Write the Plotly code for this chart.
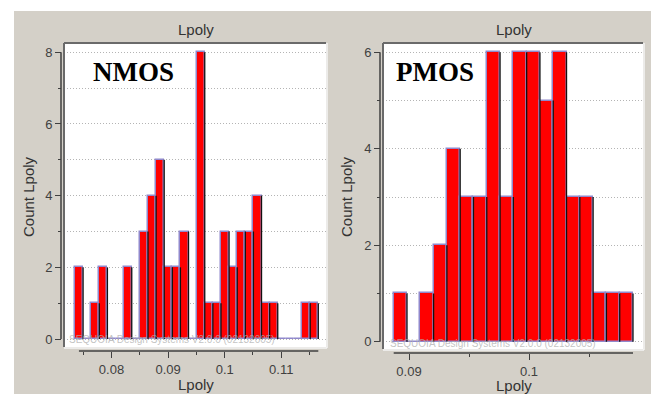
import numpy as np
import plotly.graph_objects as go

# ---------------- data ----------------
nmos_counts = [2, 0, 1, 2, 0, 0, 2, 0, 3, 4, 5, 2, 2, 3, 0, 8, 1, 1, 3, 2, 3, 3, 4, 1, 1, 0, 0, 0, 1, 1]
nmos_range = [0.07355, 0.11654]          # histogram min / max of Lpoly
pmos_counts = [1, 0, 1, 2, 4, 3, 3, 6, 3, 6, 6, 5, 6, 3, 3, 1, 1, 1]
pmos_range = [0.088725, 0.108667]

nmos_xticks = [0.08, 0.09, 0.1, 0.11]
nmos_xlabels = ["0.08", "0.09", "0.1", "0.11"]
pmos_xticks = [0.09, 0.1]
pmos_xlabels = ["0.09", "0.1"]
nmos_yticks = [0, 2, 4, 6, 8]
pmos_yticks = [0, 2, 4, 6]

title_text = "Lpoly"
ytitle_text = "Count Lpoly"
watermark = "SEQUOIA Design Systems V2.0.0 (02132005)"

# ---------------- helpers ----------------
W, H = 654, 394
def px(x):
    return x / W
def py(y):
    return 1 - y / H

BG = "#d4d0c8"
AX = "#404040"
TXT = "#333333"
GRID = "#b4b4b4"
FONT = "Liberation Sans, Arial, sans-serif"

def hist_geometry(counts, rng):
    n = len(counts)
    edges = np.linspace(rng[0], rng[1], n + 1)
    centers = (edges[:-1] + edges[1:]) / 2
    width = edges[1] - edges[0]
    return edges, centers, width

fig = go.Figure()

panels = [
    dict(counts=nmos_counts, rng=nmos_range, xa="x", ya="y"),
    dict(counts=pmos_counts, rng=pmos_range, xa="x2", ya="y2"),
]
for p in panels:
    edges, centers, width = hist_geometry(p["counts"], p["rng"])
    fig.add_trace(go.Bar(
        x=centers, y=p["counts"], width=[width] * len(centers),
        marker=dict(color="#ff0000", line=dict(color="#9088cc", width=1.5)),
        xaxis=p["xa"], yaxis=p["ya"], showlegend=False, hoverinfo="skip"))
    # dark right-hand edge of each bar
    sx, sy = [], []
    for i, c in enumerate(p["counts"]):
        if c > 0:
            sx += [edges[i + 1], edges[i + 1], None]
            sy += [0, c, None]
    fig.add_trace(go.Scatter(
        x=sx, y=sy, mode="lines", line=dict(color="#111111", width=1.3),
        xaxis=p["xa"], yaxis=p["ya"], showlegend=False, hoverinfo="skip"))

def xaxis_cfg(domain, rng, pos, tickvals, ticktext):
    return dict(domain=domain, range=rng, anchor="free", position=pos,
                showline=False, showgrid=False, zeroline=False,
                tickmode="array", tickvals=tickvals, ticktext=ticktext,
                ticks="outside", ticklen=6, tickwidth=1, tickcolor=AX,
                minor=dict(dtick=0.005, tick0=0, ticks="outside", ticklen=3,
                           tickwidth=1, tickcolor=AX, showgrid=False),
                tickfont=dict(family=FONT, size=13, color=AX))

def yaxis_cfg(domain, rng, pos, tickvals):
    return dict(domain=domain, range=rng, anchor="free", position=pos,
                showline=False, zeroline=False,
                tickmode="array", tickvals=tickvals,
                ticks="outside", ticklen=6, tickwidth=1, tickcolor=AX,
                showgrid=True, griddash="1px,2px", gridcolor=GRID, gridwidth=1,
                minor=dict(dtick=1, tick0=0, ticks="outside", ticklen=3,
                           tickwidth=1, tickcolor=AX, showgrid=True,
                           griddash="1px,2px", gridcolor=GRID, gridwidth=1),
                tickfont=dict(family=FONT, size=13, color=AX))

fig.update_layout(
    width=W, height=H, margin=dict(l=0, r=0, t=0, b=0),
    paper_bgcolor=BG, plot_bgcolor="white", bargap=0,
    xaxis=xaxis_cfg([px(64), px(326)], [0.07161, 0.11790], py(351), nmos_xticks, nmos_xlabels),
    yaxis=yaxis_cfg([py(347), py(43)], [-0.223, 8.26], px(61), nmos_yticks),
    xaxis2=xaxis_cfg([px(383), px(643)], [0.087833, 0.1095], py(353), pmos_xticks, pmos_xlabels),
    yaxis2=yaxis_cfg([py(349), py(43)], [-0.151, 6.193], px(380), pmos_yticks),
)

shapes = [
    # white page margins around the grey panel
    dict(type="rect", xref="paper", yref="paper", x0=0, x1=1, y0=py(11), y1=1,
         fillcolor="white", line_width=0, layer="below"),
    dict(type="rect", xref="paper", yref="paper", x0=0, x1=px(14), y0=0, y1=1,
         fillcolor="white", line_width=0, layer="below"),
    dict(type="rect", xref="paper", yref="paper", x0=px(651), x1=1, y0=0, y1=1,
         fillcolor="white", line_width=0, layer="below"),
]
for (l, r, t, b) in [(64, 326, 43, 347), (383, 643, 43, 349)]:
    shapes += [
        dict(type="line", xref="paper", yref="paper", x0=px(l), x1=px(r), y0=py(t), y1=py(t),
             line=dict(color="#6a6a6a", width=2)),
        dict(type="line", xref="paper", yref="paper", x0=px(l), x1=px(l), y0=py(t), y1=py(b),
             line=dict(color="#6a6a6a", width=2)),
        dict(type="line", xref="paper", yref="paper", x0=px(r + 1), x1=px(r + 1), y0=py(t), y1=py(b + 1),
             line=dict(color="#f4f4f4", width=1.5)),
        dict(type="line", xref="paper", yref="paper", x0=px(l), x1=px(r + 1), y0=py(b + 1), y1=py(b + 1),
             line=dict(color="#f4f4f4", width=1.5)),
    ]
# axis lines spanning only the data extent
shapes += [
    dict(type="line", xref="paper", yref="y", x0=px(61), x1=px(61), y0=0, y1=max(nmos_yticks),
         line=dict(color=AX, width=1.5)),
    dict(type="line", xref="paper", yref="y2", x0=px(380), x1=px(380), y0=0, y1=max(pmos_yticks),
         line=dict(color=AX, width=1.5)),
    dict(type="line", xref="x", yref="paper", x0=nmos_range[0] + 0.0007, x1=nmos_range[1], y0=py(351), y1=py(351),
         line=dict(color=AX, width=1.5)),
    dict(type="line", xref="x2", yref="paper", x0=pmos_range[0], x1=pmos_range[1], y0=py(353), y1=py(353),
         line=dict(color=AX, width=1.5)),
]
fig.update_layout(shapes=shapes)

ann = []
def text(x, y, s, size, color=TXT, family=FONT, angle=0, xanchor="center"):
    ann.append(dict(xref="paper", yref="paper", x=px(x), y=py(y), text=s, showarrow=False,
                    font=dict(family=family, size=size, color=color), textangle=angle,
                    xanchor=xanchor, yanchor="middle"))

text(196, 29, title_text, 15)
text(514, 29, title_text, 15)
text(196, 384, title_text, 15)
text(514, 385, title_text, 15)
text(28, 197, ytitle_text, 15, angle=-90)
text(346, 197, ytitle_text, 15, angle=-90)
text(133, 72, "<b>NMOS</b>", 27, color="black", family="Liberation Serif, Times New Roman, serif")
text(435, 72, "<b>PMOS</b>", 27, color="black", family="Liberation Serif, Times New Roman, serif")
text(67, 339, watermark, 10, color="rgba(175,175,175,0.75)", xanchor="left")
text(388, 343, watermark, 10, color="rgba(175,175,175,0.75)", xanchor="left")
fig.update_layout(annotations=ann)

fig.write_html("out.html")
